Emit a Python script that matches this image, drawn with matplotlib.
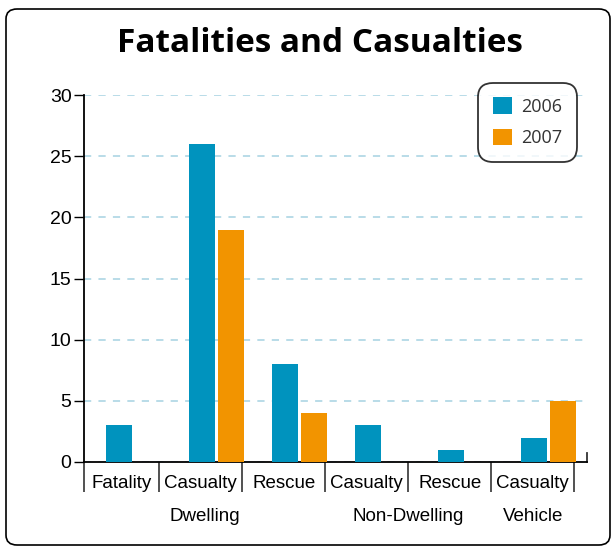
import matplotlib
matplotlib.use('Agg')
import numpy as np
import matplotlib.pyplot as plt
from matplotlib.patches import FancyBboxPatch
import matplotlib.transforms as mtransforms

# data
categories = ['Fatality', 'Casualty', 'Rescue', 'Casualty', 'Rescue', 'Casualty']
groups = ['Dwelling', 'Non-Dwelling', 'Vehicle']
group_sizes = [3, 2, 1]
years = ['2006', '2007']
vals_2006 = [3, 26, 8, 3, 1, 2]
vals_2007 = [0, 19, 4, 0, 0, 5]
colors = ['#0093be', '#f29400']

plt.rcParams['font.family'] = ['Liberation Sans Narrow', 'Liberation Sans', 'DejaVu Sans']

fig = plt.figure(figsize=(6.15, 5.47), dpi=100)
ax = fig.add_axes([84/615, 85/547, 503/615, 367/547])

# rounded frame round the whole figure
frame = FancyBboxPatch((6/615, 2/547), 604/615, 536/547,
                       boxstyle='round,pad=0,rounding_size=0.018',
                       transform=fig.transFigure, fill=False,
                       edgecolor='black', linewidth=1.2)
fig.patches.append(frame)

x = np.arange(len(categories))
w = 0.313
ax.bar(x - 0.175, vals_2006, w, color=colors[0], label=years[0], zorder=3)
ax.bar(x + 0.175, vals_2007, w, color=colors[1], label=years[1], zorder=3)

ax.set_ylim(0, 30)
ax.set_xlim(-0.596, 5.464)
ax.set_yticks(np.arange(0, 31, 5))
ax.tick_params(axis='y', length=7, width=1, labelsize=14, pad=2)
ax.yaxis.grid(True, color='#b3d9e6', linestyle=(0, (4, 4)), linewidth=1.3)
ax.set_axisbelow(True)

ax.spines['top'].set_visible(False)
ax.spines['left'].set_linewidth(1.3)
ax.spines['bottom'].set_linewidth(1.3)
ax.spines['right'].set_bounds(0, 0.75)
ax.spines['right'].set_linewidth(1.3)
ax.spines['right'].set_color('#333333')

# category ticks and group separators
edges = [-0.596] + list(x + 0.31)
ax.set_xticks(edges)
ax.set_xticklabels([])
ax.tick_params(axis='x', which='major', length=21.6, width=1.2, color='#333333', direction='out')
bounds = np.cumsum(group_sizes) - 1 + 0.31
ax.set_xticks(bounds, minor=True)
ax.tick_params(axis='x', which='minor', length=51, width=1.2, color='#333333', direction='out')

trans = mtransforms.blended_transform_factory(ax.transData, ax.transAxes)
mids = [(edges[i] + edges[i + 1]) / 2 for i in range(len(categories))]
for m, c in zip(mids, categories):
    ax.text(m, -0.058, c, transform=trans, ha='center', va='center', fontsize=13.5)

start = edges[0]
for g, b in zip(groups, bounds):
    ax.text((start + b) / 2 if g != 'Vehicle' else mids[-1], -0.148, g,
            transform=trans, ha='center', va='center', fontsize=13.5)
    start = b

fig.text(0.52, 0.921, 'Fatalities and Casualties', ha='center', va='center',
         fontsize=24, fontweight='bold', family=['Open Sans', 'DejaVu Sans'])

leg = ax.legend(loc='upper right', bbox_to_anchor=(577/615, 1 - 83/547),
                bbox_transform=fig.transFigure, frameon=True,
                fancybox=True, handlelength=1.05, handleheight=1.05,
                handletextpad=0.55, borderpad=0.8, labelspacing=0.7,
                borderaxespad=0,
                prop={'family': ['Open Sans', 'DejaVu Sans'], 'size': 13})
leg.get_frame().set_edgecolor('black')
leg.get_frame().set_linewidth(1.3)
leg.get_frame().set_boxstyle('round,pad=0,rounding_size=0.8')
for t in leg.get_texts():
    t.set_color('#333333')

fig.savefig('out.png', dpi=100)
